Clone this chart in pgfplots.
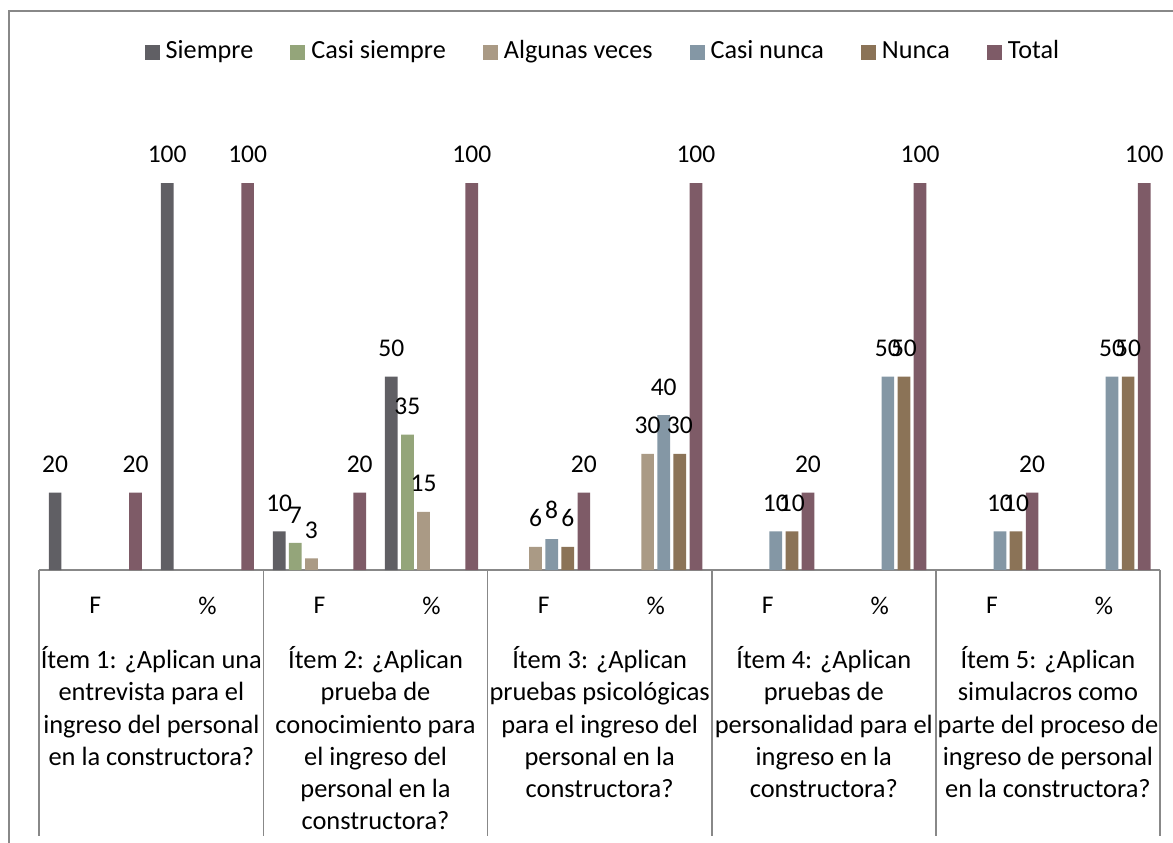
\documentclass[border=0pt]{standalone}
\usepackage{fontspec}
\setmainfont{Carlito}
\usepackage{pgfplots}
\pgfplotsset{compat=1.18}
\definecolor{cSiempre}{HTML}{605F64}
\definecolor{cCasiS}{HTML}{94A57A}
\definecolor{cAlg}{HTML}{AA9A85}
\definecolor{cCasiN}{HTML}{8497A5}
\definecolor{cNunca}{HTML}{8B7357}
\definecolor{cTotal}{HTML}{7E5B67}
\definecolor{lineg}{HTML}{888888}
\begin{document}
\begin{tikzpicture}
\useasboundingbox (0,0) rectangle (586.5pt,-421pt);
\fill[white] (0,0) rectangle (586.5pt,-421pt);
\draw[lineg, line width=0.9pt] (4.5pt,-440pt) -- (4.5pt,-5.5pt) -- (600pt,-5.5pt);
\begin{axis}[
  at={(19.65pt,-285pt)}, anchor=south west,
  scale only axis, width=560.35pt, height=232.2pt,
  xmin=-0.5, xmax=9.5, ymin=0, ymax=120,
  axis x line*=bottom, axis y line=none,
  x axis line style={lineg, line width=0.9pt, -},
  xtick={0,...,9},
  xticklabels={F,\%,F,\%,F,\%,F,\%,F,\%},
  major tick length=0pt,
  xticklabel style={font=\fontsize{12.75}{15}\selectfont, inner sep=0pt, yshift=-13.3pt, anchor=north},
  ytick=\empty,
  ybar, bar width=0.1133,
  nodes near coords,
  every node near coord/.append style={font=\fontsize{12.75}{15}\selectfont, inner sep=0pt, yshift=9.75pt, anchor=south},
  /pgf/number format/assume math mode=true,
  clip=false,
  legend columns=-1,
  legend image code/.code={\fill[#1] (0pt,-3.75pt) rectangle (7.5pt,3.75pt);},
  legend style={at={(0.09405,1.1143)}, anchor=west, draw=none, fill=none,
    inner sep=0pt, outer sep=0pt, font=\fontsize{13.1}{15}\selectfont,
    nodes={inner sep=0pt, text height=0.64em, text depth=0pt},
    /tikz/every odd column/.append style={column sep=3pt},
    /tikz/every even column/.append style={column sep=18.5pt}},
]
\addplot[fill=cSiempre, draw=none, bar shift=-0.359] coordinates {(0,20) (1,100) (2,10) (3,50)};
\addlegendentry{Siempre}
\addplot[fill=cCasiS, draw=none, bar shift=-0.2154] coordinates {(2,7) (3,35)};
\addlegendentry{Casi siempre}
\addplot[fill=cAlg, draw=none, bar shift=-0.0718] coordinates {(2,3) (3,15) (4,6) (5,30)};
\addlegendentry{Algunas veces}
\addplot[fill=cCasiN, draw=none, bar shift=0.0718] coordinates {(4,8) (5,40) (6,10) (7,50) (8,10) (9,50)};
\addlegendentry{Casi nunca}
\addplot[fill=cNunca, draw=none, bar shift=0.2154] coordinates {(4,6) (5,30) (6,10) (7,50) (8,10) (9,50)};
\addlegendentry{Nunca}
\addplot[fill=cTotal, draw=none, bar shift=0.359] coordinates {(0,20) (1,100) (2,20) (3,100) (4,20) (5,100) (6,20) (7,100) (8,20) (9,100)};
\addlegendentry{Total}
\draw[lineg, line width=0.9pt] (axis cs:-0.5,0) -- ++(0pt,-133pt);
\draw[lineg, line width=0.9pt] (axis cs:1.5,0) -- ++(0pt,-133pt);
\draw[lineg, line width=0.9pt] (axis cs:3.5,0) -- ++(0pt,-133pt);
\draw[lineg, line width=0.9pt] (axis cs:5.5,0) -- ++(0pt,-133pt);
\draw[lineg, line width=0.9pt] (axis cs:7.5,0) -- ++(0pt,-133pt);
\draw[lineg, line width=0.9pt] (axis cs:9.5,0) -- ++(0pt,-133pt);
\tikzset{itemlab/.style={anchor=north, align=center, inner sep=0pt, yshift=-38pt, font=\fontsize{13.2}{16.15}\selectfont}}
\node[itemlab] at (axis cs:0.5,0) {Ítem 1: ¿Aplican una\\entrevista para el\\ingreso del personal\\en la constructora?};
\node[itemlab] at (axis cs:2.5,0) {Ítem 2: ¿Aplican\\prueba de\\conocimiento para\\el ingreso del\\personal en la\\constructora?};
\node[itemlab] at (axis cs:4.5,0) {Ítem 3: ¿Aplican\\pruebas psicológicas\\para el ingreso del\\personal en la\\constructora?};
\node[itemlab] at (axis cs:6.5,0) {Ítem 4: ¿Aplican\\pruebas de\\personalidad para el\\ingreso en la\\constructora?};
\node[itemlab] at (axis cs:8.5,0) {Ítem 5: ¿Aplican\\simulacros como\\parte del proceso de\\ingreso de personal\\en la constructora?};
\end{axis}
\end{tikzpicture}
\end{document}
